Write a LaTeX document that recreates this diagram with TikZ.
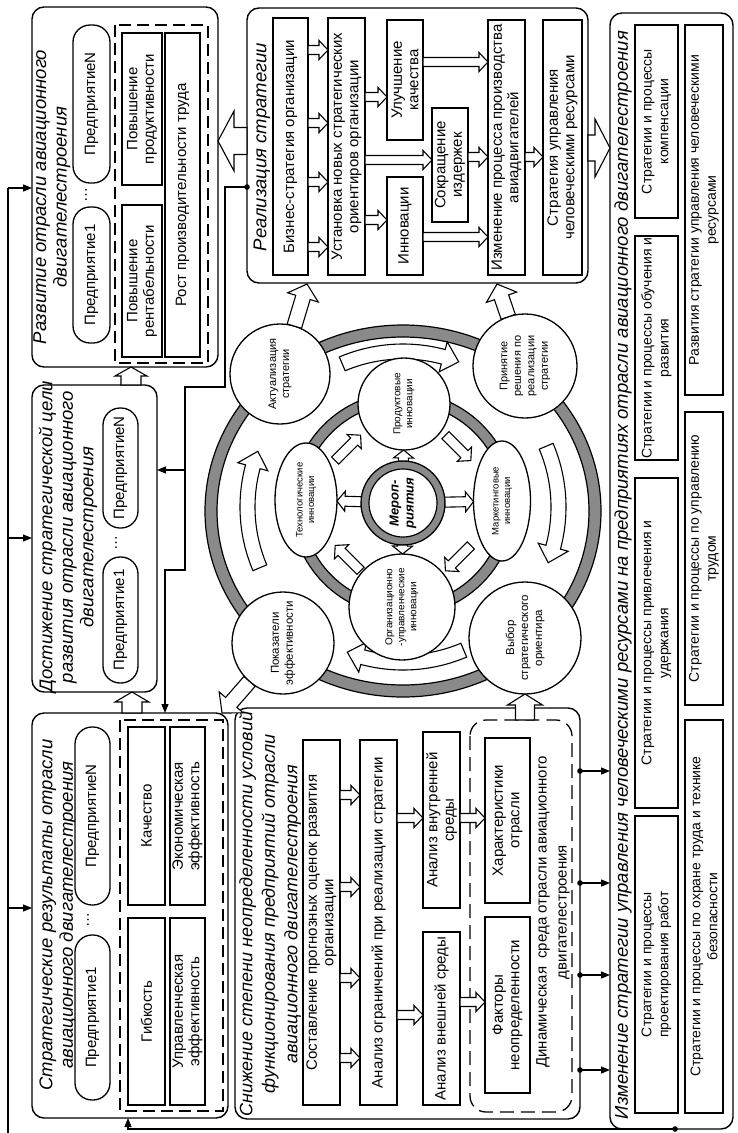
\documentclass[tikz,border=0pt]{standalone}
\usepackage{fontspec}
\setmainfont{Liberation Sans}
\usetikzlibrary{arrows.meta,shapes.geometric,calc}
\definecolor{ringgray}{RGB}{138,138,138}
\newcommand\fs[2]{\fontsize{#1}{#2}\selectfont}
% box by image corners: [style]{name}{x1}{y1}{x2}{y2}{text}
\newcommand\rbox[7][]{%
  \pgfmathsetmacro\rbW{#6-#4}\pgfmathsetmacro\rbH{#5-#3}%
  \pgfmathsetmacro\rbCx{(#3+#5)/2}\pgfmathsetmacro\rbCy{-(#4+#6)/2}%
  \node[#1,minimum width=\rbW*1pt,minimum height=\rbH*1pt] (#2) at (\rbCx,\rbCy) {#7};}
% hollow block arrow: [opts]{from}{to}{half shaft}{half head}{head length}
\newcommand\barr[6][]{%
  \path (#2) -- (#3) coordinate[pos=0] (bS) coordinate[pos=1] (bE);%
  \pgfpointdiff{\pgfpointanchor{bS}{center}}{\pgfpointanchor{bE}{center}}%
  \pgfgetlastxy{\bdx}{\bdy}%
  \pgfmathsetmacro\bL{veclen(\bdx,\bdy)}%
  \pgfmathsetmacro\bT{atan2(\bdy,\bdx)}%
  \pgfmathsetmacro\bK{\bL-#6}%
  \draw[harrow,#1,shift={(bS)},rotate=\bT] (0,#4) -- (\bK,#4) -- (\bK,#5) -- (\bL,0) -- (\bK,-#5) -- (\bK,-#4) -- (0,-#4) -- cycle;}
% curved hollow arrow around (cc): {start angle}{head base angle}{tip angle}
\newcommand\carr[3]{%
  \draw[harrow,shift={(cc)}] (#1:163) arc[start angle=#1,end angle=#2,radius=163] -- (#2:171) -- (#3:155.5) -- (#2:140) -- (#2:148) arc[start angle=#2,end angle=#1,radius=148] -- cycle;}
\begin{document}
\begin{tikzpicture}[x=1pt,y=1pt,
  rn/.style={rotate=90,inner sep=0pt,outer sep=0pt,align=center},
  bx/.style={rn,draw,line width=1.3pt,fill=white,font=\fs{15}{16.5}},
  bxs/.style={bx,font=\fs{14}{17}},
  pill/.style={bx,rounded corners=17pt},
  cont/.style={rn,draw,line width=1.4pt,rounded corners=12pt},
  dsh/.style={rn,draw,line width=1.3pt,dash pattern=on 12pt off 6pt},
  ttl/.style={rn,font=\itshape\fs{18.5}{20.5}},
  crc/.style={rn,circle,draw,line width=1.3pt,fill=white},
  ell/.style={rn,ellipse,draw,line width=1.3pt,fill=white},
  harrow/.style={draw,line width=1.1pt,fill=white,line join=miter},
  ln/.style={line width=1.3pt,-{Triangle[length=9pt,width=7pt]}},
  dt/.style={rn,font=\fs{15}{15}}
]
\useasboundingbox (0,0) rectangle (737,-1133);
\fill[white] (0,0) rectangle (737,-1133);

% ---------- Развитие
\rbox[cont]{razv}{32}{7}{218}{367}{}
\rbox[dsh]{razvd}{115}{25}{208}{363}{}
\node[ttl] (trazv) at (52,-197) {Развитие отрасли авиационного\\двигателестроения};
\rbox[pill]{rp1}{73}{207}{110}{343}{Предприятие1}
\rbox[pill]{rpN}{73}{25}{110}{183}{ПредприятиеN}
\node[dt] (rdots) at (86,-195) {…};
\rbox[bx]{rrent}{122}{205}{162}{357}{Повышение\\рентабельности}
\rbox[bx]{rprod}{122}{33}{162}{185}{Повышение\\продуктивности}
\rbox[bx]{rrost}{165}{33}{200}{357}{Рост производительности труда}

% ---------- Достижение
\rbox[cont]{dost}{32}{385}{157}{692}{}
\node[ttl] (tdost) at (68,-537) {Достижение стратегической цели\\развития отрасли авиационного\\двигателестроения};
\rbox[pill]{dpN}{103}{408}{138}{528}{ПредприятиеN}
\rbox[pill]{dp1}{103}{557}{138}{683}{Предприятие1}
\node[dt] (ddots) at (116,-543) {…};

% ---------- Стратегические результаты
\rbox[cont]{strat}{32}{713}{228}{1118}{}
\rbox[dsh]{stratd}{120}{720}{223}{1111}{}
\node[ttl] (tstrat) at (58,-915) {Стратегические результаты отрасли\\авиационного двигателестроения};
\rbox[pill]{sp1}{75}{935}{110}{1100}{Предприятие1}
\rbox[pill]{spN}{75}{727}{110}{905}{ПредприятиеN}
\node[dt] (sdots) at (88,-920) {…};
\rbox[bx]{sgib}{128}{918}{165}{1105}{Гибкость}
\rbox[bx]{skach}{128}{727}{165}{905}{Качество}
\rbox[bx]{supr}{170}{918}{205}{1105}{Управленческая\\эффективность}
\rbox[bx]{sekon}{170}{727}{205}{905}{Экономическая\\эффективность}

% ---------- Реализация стратегии
\rbox[cont]{real}{247}{8}{588}{283}{}
\node[ttl] (treal) at (262,-147) {Реализация стратегии};
\rbox[bx]{rbiz}{273}{18}{308}{275}{Бизнес-стратегия организации}
\rbox[bx]{rust}{328}{18}{365}{275}{Установка новых стратегических\\ориентиров организации}
\rbox[bx]{rul}{387}{20}{423}{140}{Улучшение\\качества}
\rbox[bx]{rinn}{387}{177}{423}{275}{Инновации}
\rbox[bx]{rsok}{432}{108}{468}{222}{Сокращение\\издержек}
\rbox[bx]{rizm}{488}{20}{525}{275}{Изменение процесса производства\\авиадвигателей}
\rbox[bx]{rstr}{543}{20}{582}{275}{Стратегия управления\\человеческими ресурсами}

% ---------- Снижение степени неопределенности
\rbox[cont]{snizh}{235}{708}{580}{1119}{}
\node[ttl,font=\itshape\fs{18}{22.5}] (tsnizh) at (270,-914) {Снижение степени неопределенности условий\\функционирования предприятий отрасли\\авиационного двигателестроения};
\rbox[bx]{nsost}{303}{740}{340}{1105}{Составление прогнозных оценок развития\\организации}
\rbox[bx]{nanogr}{360}{740}{397}{1105}{Анализ ограничений при реализации стратегии}
\rbox[bx]{nvnutr}{423}{732}{460}{908}{Анализ внутренней\\среды}
\rbox[bx]{nvnesh}{423}{932}{460}{1105}{Анализ внешней среды}
\rbox[dsh,rounded corners=16pt,dash pattern=on 14pt off 7pt]{snd}{470}{720}{572}{1112}{}
\rbox[bx]{nhar}{485}{738}{530}{903}{Характеристики\\отрасли}
\rbox[bx]{nfakt}{485}{917}{530}{1093}{Факторы\\неопределенности}
\node[rn,font=\fs{15}{20}] (sndt) at (553,-912) {Динамическая\ \ среда отрасли авиационного\\двигателестроения};

% ---------- Изменение стратегии
\rbox[cont]{izm}{610}{13}{733}{1129}{}
\node[ttl] (tizm) at (623,-575) {Изменение стратегии управления человеческими ресурсами на предприятиях отрасли авиационного двигателестроения};
\rbox[bxs]{izk}{635}{25}{678}{218}{Стратегии и процессы\\компенсации}
\rbox[bxs]{izo}{635}{236}{678}{460}{Стратегии и процессы обучения и\\развития}
\rbox[bxs]{izp}{635}{478}{678}{808}{Стратегии и процессы привлечения и\\удержания}
\rbox[bxs]{izpr}{635}{816}{678}{1113}{Стратегии и процессы\\проектирования работ}
\rbox[bxs]{izr}{685}{25}{723}{395}{Развития стратегии управления человеческими\\ресурсами}
\rbox[bxs]{izt}{685}{412}{723}{705}{Стратегии и процессы по управлению\\трудом}
\rbox[bxs]{izoh}{685}{720}{723}{1113}{Стратегии и процессы по охране труда и технике\\безопасности}

% ---------- circle diagram
\coordinate (cc) at (403,-507);
\coordinate (mc) at (403,-503);
\draw[line width=1.2pt,fill=ringgray,even odd rule] (403,-511) ellipse[x radius=198,y radius=186] (403,-511) ellipse[x radius=186,y radius=174];
\draw[line width=1.2pt,fill=ringgray,even odd rule] (403,-504) circle[radius=112] (403,-504) circle[radius=101];
\carr{113}{75}{69}
\carr{23}{-15}{-21}
\carr{-67}{-105}{-111}
\carr{203}{165}{159}

\node[crc,minimum size=100pt,font=\fs{11}{13}] (akt) at (280,-374) {Актуализация\\стратегии};
\node[crc,minimum size=104pt,font=\fs{11}{13.5}] (prin) at (525,-366) {Принятие\\решения по\\реализации\\стратегии};
\node[crc,minimum size=112pt,font=\fs{11.5}{14}] (vyb) at (525,-638) {Выбор\\стратегического\\ориентира};
\node[crc,minimum size=102pt,font=\fs{11.5}{14}] (pok) at (283,-643) {Показатели\\эффективности};
\node[crc,minimum size=92pt,font=\fs{10}{12}] (prod) at (404,-404) {Продуктовые\\инновации};
\node[crc,minimum size=106pt,font=\fs{10}{12}] (org) at (402,-607) {Организационно\\-управленческие\\инновации};
\node[ell,minimum width=114pt,minimum height=62pt,font=\fs{9.5}{11.5}] (tech) at (306,-500) {Технологические\\инновации};
\node[ell,minimum width=120pt,minimum height=57pt,font=\fs{9.5}{11.5}] (mark) at (502,-501) {Маркетинговые\\инновации};
\node[crc,minimum size=84pt,fill=ringgray,font=\bfseries\itshape\fs{13}{15},
  path picture={\draw[fill=white,line width=1.2pt] (path picture bounding box.center) circle[radius=34];}] (mer) at (403,-503) {Мероп-\\риятия};

% inner arrows
\barr{mer}{prod}{5}{10}{8}
\barr{mer}{tech}{5}{10}{8}
\barr{mer}{mark}{5}{10}{8}
\barr{mer}{org}{5}{10}{8}
\barr{$(mc)+(148:80)$}{$(mc)+(122:80)$}{5}{10}{9}
\barr{$(mc)+(58:80)$}{$(mc)+(32:80)$}{5}{10}{9}
\barr{$(mc)+(-32:80)$}{$(mc)+(-58:80)$}{5}{10}{9}
\barr{$(mc)+(-122:80)$}{$(mc)+(-148:80)$}{5}{10}{9}

% ---------- block arrows between boxes
\barr{real.north |- 0,-141}{razv.south |- 0,-141}{13.5}{30}{16}
\barr{real.south |- 0,-148}{izm.north |- 0,-148}{13}{29}{15}
\barr{dost.east -| 131,0}{razv.west -| 131,0}{10}{16}{9}
\barr{strat.east -| 132,0}{dost.west -| 132,0}{10}{17}{10}
\barr{akt}{307,-284}{7.5}{16}{14}
\barr{prin}{497,-284}{7.5}{16}{14}
\barr{pok}{222,-713}{7.5}{16}{14}
\barr{snd.east -| 525,0}{vyb}{9.5}{17.5}{11}

% Реализация inner arrows
\foreach \yy in {50,123,182,247}{\barr{rbiz.south |- 0,-\yy}{rust.north |- 0,-\yy}{4.5}{9.5}{9}}
\barr{rust.south |- 0,-97}{rul.north |- 0,-97}{4.5}{9.5}{9}
\barr{rust.south |- 0,-160}{rsok.north |- 0,-160}{4.5}{9.5}{9}
\barr{rust.south |- 0,-220}{rinn.north |- 0,-220}{4.5}{9.5}{9}
\barr{rul.south |- 0,-62}{rizm.north |- 0,-62}{4.5}{9.5}{9}
\barr{rsok.south |- 0,-157}{rizm.north |- 0,-157}{4.5}{9.5}{9}
\barr{rinn.south |- 0,-237}{rizm.north |- 0,-237}{4.5}{9.5}{9}
\barr{rizm.south |- 0,-157}{rstr.north |- 0,-157}{4.5}{9.5}{9}

% Снижение inner arrows
\foreach \yy in {795,887,978,1058}{\barr{nsost.south |- 0,-\yy}{nanogr.north |- 0,-\yy}{4.5}{9.5}{9}}
\barr{nanogr.south |- 0,-818}{nvnutr.north |- 0,-818}{4.5}{9.5}{9}
\barr{nanogr.south |- 0,-1015}{nvnesh.north |- 0,-1015}{4.5}{9.5}{9}
\barr{nvnutr.south |- 0,-818}{nhar.north |- 0,-818}{4.5}{9.5}{9}
\barr{nvnesh.south |- 0,-1002}{nfakt.north |- 0,-1002}{4.5}{9.5}{9}

% ---------- thin connectors
\coordinate (L1) at (8,-188);
\coordinate (L2) at (8,-538);
\coordinate (L3) at (8,-908);
\draw[line width=1.3pt] (8,-1133) -- (L1);
\draw[ln] (L1) -- (L1 -| razv.north);
\draw[ln] (L2) -- (L2 -| dost.north);
\draw[ln] (L3) -- (L3 -| strat.north);

\coordinate (D1) at (real.north |- 0,-187);
\fill (D1) circle[radius=2.8];
\draw[ln] (D1) -| (225,-387) -| (185,-570) -| (strat.east -| 165,0);
\coordinate (B1) at (185,-470);
\draw[ln] (B1) -- (B1 -| dost.south);

\coordinate (D2) at (675,-1129);
\fill (D2) circle[radius=2.8];
\draw[ln] (D2) -| (strat.west -| 128,0);

\foreach \yy [count=\i] in {771,883,975,1070}{
  \coordinate (S\i) at (snizh.south |- 0,-\yy);
  \fill (S\i) circle[radius=2.8];
  \draw[ln] (S\i) -- (S\i -| izm.north);
}
\end{tikzpicture}
\end{document}
